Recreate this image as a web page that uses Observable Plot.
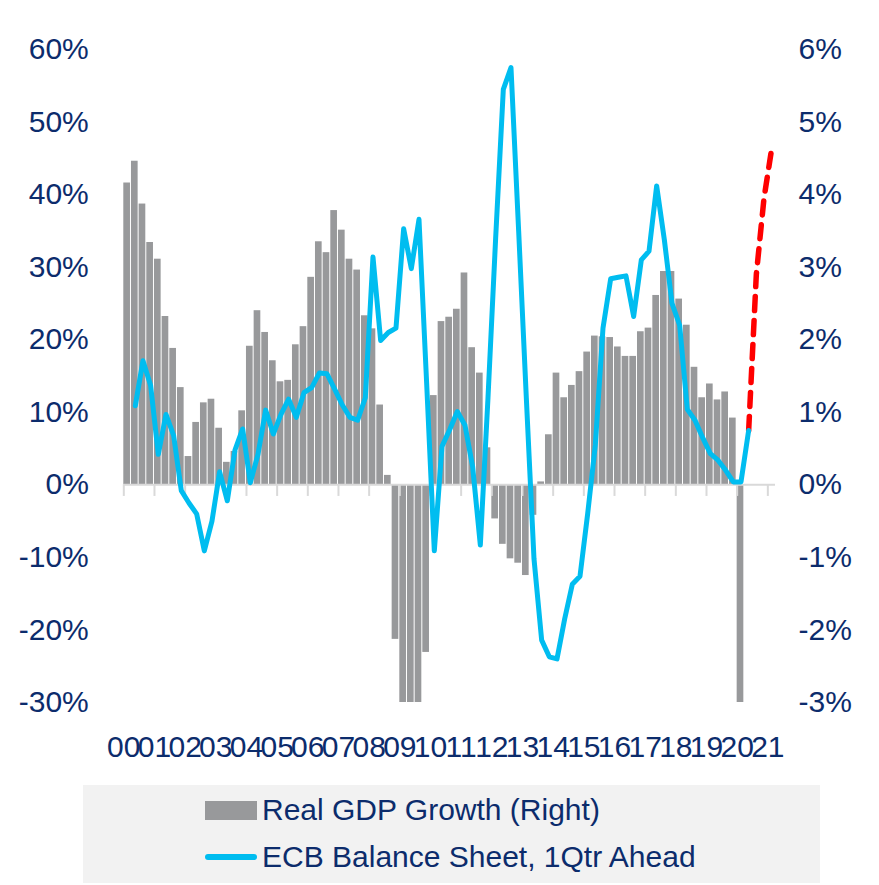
<!DOCTYPE html>
<html>
<head>
<meta charset="utf-8">
<script src="https://cdn.jsdelivr.net/npm/d3@7"></script>
<script src="https://cdn.jsdelivr.net/npm/@observablehq/plot@0.6"></script>
<style>
  html, body { margin: 0; padding: 0; background: #ffffff; }
  #wrap { position: relative; width: 879px; height: 885px; overflow: hidden; font-family: "Liberation Sans", Arial, sans-serif; }
  #chart svg { display: block; }
  #legend { position: absolute; left: 83px; top: 785px; width: 737px; height: 98px; background: #f2f2f2; }
  .lg-item { position: absolute; left: 122px; height: 36px; display: flex; align-items: center; color: #0c2c6c; font-size: 30px; white-space: nowrap; }
  .sw-bar { width: 52px; height: 19px; background: #98999b; margin-right: 5px; }
  .sw-line { width: 52px; height: 6px; border-radius: 3px; background: #00bdf0; margin-right: 5px; }
</style>
</head>
<body>
<div id="wrap">
  <div id="chart"></div>
  <div id="legend">
    <div class="lg-item" style="top:7px"><span class="sw-bar"></span><span id="lg1"></span></div>
    <div class="lg-item" style="top:54px"><span class="sw-line"></span><span id="lg2"></span></div>
  </div>
</div>
<script>
// ---- data ----
const firstYear = 2000;
// Real GDP growth, % y/y (right axis), quarterly from 2000 Q1 to 2020 Q1 (bars clipped at -3%)
const gdpGrowth = [
  4.16, 4.46, 3.87, 3.34,
  3.11, 2.32, 1.88, 1.34,
  0.39, 0.86, 1.13, 1.18,
  0.78, 0.31, 0.46, 1.02,
  1.91, 2.40, 2.10, 1.71,
  1.42, 1.44, 1.93, 2.18,
  2.86, 3.35, 3.20, 3.78,
  3.51, 3.11, 2.96, 2.33,
  2.15, 1.10, 0.13, -2.13,
  -3.00, -3.00, -3.00, -2.31,
  1.23, 2.25, 2.31, 2.42,
  2.92, 1.89, 1.54, 0.51,
  -0.47, -0.82, -1.02, -1.08,
  -1.25, -0.42, 0.04, 0.69,
  1.54, 1.20, 1.37, 1.56,
  1.83, 2.05, 2.04, 2.03,
  1.90, 1.77, 1.77, 2.11,
  2.16, 2.61, 2.94, 2.94,
  2.56, 2.20, 1.62, 1.20,
  1.39, 1.17, 1.28, 0.92,
  -3.00
];
// ECB balance sheet, % y/y, 1Qtr ahead (left axis), quarterly from 2000 Q2 to 2020 Q2
const ecbStartQuarter = 1;
const ecbBalance = [
  10.9, 17.1, 13.7,
  4.2, 9.7, 6.8, -0.8,
  -2.5, -4.0, -9.1, -5.0,
  1.8, -2.2, 4.8, 7.7,
  0.3, 4.2, 10.3, 7.0,
  9.7, 11.8, 9.3, 12.7,
  13.4, 15.4, 15.3, 13.2,
  11.0, 9.3, 8.9, 12.0,
  31.4, 19.9, 21.0, 21.6,
  35.3, 29.8, 36.6, 14.0,
  -9.1, 5.3, 7.6, 10.1,
  8.2, 2.5, -8.3, 12.0,
  34.0, 54.5, 57.5, 35.0,
  12.0, -10.2, -21.4, -23.7,
  -24.0, -18.5, -13.7, -12.6,
  -4.0, 5.5, 21.6, 28.4,
  28.6, 28.8, 23.2, 31.0,
  32.2, 41.2, 33.8, 25.0,
  22.0, 10.4, 8.9, 6.5,
  4.3, 3.4, 2.0, 0.4,
  0.4, 7.5
];
// Projection (red dashed), from 2020 Q2 to 2021 Q1
const projStartQuarter = 81;
const ecbProjection = [7.5, 29.0, 39.5, 46.3];

const years = d3.range(2000, 2022);
const yearLabels = ["00","01","02","03","04","05","06","07","08","09","10","11","12","13","14","15","16","17","18","19","20","21"];
const leftTicks = [-30, -20, -10, 0, 10, 20, 30, 40, 50, 60];
const leftTickLabels = ["-30%","-20%","-10%","0%","10%","20%","30%","40%","50%","60%"];
const rightTickLabels = ["-3%","-2%","-1%","0%","1%","2%","3%","4%","5%","6%"];
const legendLabels = ["Real GDP Growth (Right)", "ECB Balance Sheet, 1Qtr Ahead"];

// ---- tables ----
const bars = gdpGrowth.map((v, i) => ({t: firstYear + i / 4, v}));
const line = ecbBalance.map((v, i) => ({t: firstYear + (i + ecbStartQuarter) / 4 + 0.125, v}));
const proj = ecbProjection.map((v, i) => ({t: firstYear + (i + projStartQuarter) / 4 + 0.125, v}));

const navy = "#0c2c6c";
const font = "'Liberation Sans', Arial, sans-serif";

const chart = Plot.plot({
  width: 879,
  height: 785,
  marginLeft: 123.3,
  marginRight: 104,
  marginTop: 49,
  marginBottom: 83,
  style: {fontFamily: font, fontSize: "30px", color: navy, background: "#ffffff"},
  x: {type: "linear", domain: [2000, 2021.25], label: null},
  y: {domain: [-30, 60], label: null},
  marks: [
    Plot.rectY(bars, {x1: "t", x2: d => d.t + 0.25, y1: 0, y2: d => d.v * 10, fill: "#98999b", insetRight: 1}),
    Plot.ruleY([0], {stroke: "#d9d9d9", strokeWidth: 2}),
    Plot.ruleX(years, {x: d => d, y1: 0, y2: -1.6, stroke: "#d9d9d9", strokeWidth: 2}),
    Plot.line(proj, {x: "t", y: "v", stroke: "#ff0000", strokeWidth: 5.5, strokeDasharray: "14,10"}),
    Plot.line(line, {x: "t", y: "v", stroke: "#00bdf0", strokeWidth: 5, strokeLinejoin: "round", strokeLinecap: "round"}),
    Plot.axisY({anchor: "left", label: null, ticks: leftTicks, tickSize: 0, tickPadding: 35, fontSize: 30, fill: navy,
      tickFormat: d => leftTickLabels[leftTicks.indexOf(d)]}),
    Plot.axisY({anchor: "right", label: null, ticks: leftTicks, tickSize: 0, tickPadding: 23, fontSize: 30, fill: navy,
      tickFormat: d => rightTickLabels[leftTicks.indexOf(d)]}),
    Plot.axisX({anchor: "bottom", label: null, ticks: years, tickSize: 0, tickPadding: 33, fontSize: 30, fill: navy,
      tickFormat: d => yearLabels[d - 2000]})
  ]
});
document.getElementById("chart").appendChild(chart);
document.getElementById("lg1").textContent = legendLabels[0];
document.getElementById("lg2").textContent = legendLabels[1];
</script>
</body>
</html>
